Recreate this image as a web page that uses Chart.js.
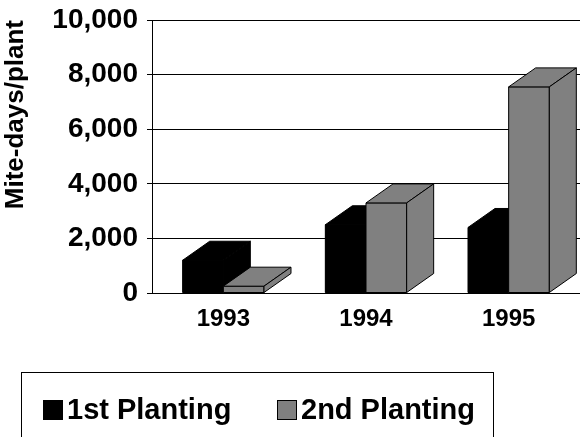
<!DOCTYPE html>
<html lang="en">
<head>
<meta charset="utf-8">
<title>Mite-days per plant</title>
<script src="https://cdn.jsdelivr.net/npm/chart.js@4.4.0/dist/chart.umd.min.js"></script>
<style>
  html, body { margin: 0; padding: 0; background: #fff; }
  #wrap { position: relative; width: 580px; height: 437px; overflow: hidden; }
  #legend {
    position: absolute; left: 21px; top: 372px; width: 473px; height: 90px;
    border: 1px solid #000; box-sizing: border-box;
    font: bold 29px "Liberation Sans", Arial, sans-serif; color: #000;
  }
  .item { position: absolute; top: 20px; white-space: nowrap; }
  .sw { display: inline-block; width: 20px; height: 20px; box-sizing: border-box; vertical-align: -1px; margin-right: 4px; }
</style>
</head>
<body>
<div id="wrap">
  <canvas id="myChart" width="580" height="437"></canvas>
  <div id="legend">
    <span class="item" style="left:21px"><span class="sw" style="background:#000"></span>1st Planting</span>
    <span class="item" style="left:255px"><span class="sw" style="background:#808080;border:1px solid #000"></span>2nd Planting</span>
  </div>
</div>
<script>
  const years = ["1993", "1994", "1995"];
  const firstPlanting = [1200, 2500, 2400];
  const secondPlanting = [250, 3300, 7550];
  const yTicks = [0, 2000, 4000, 6000, 8000, 10000];

  const depthX = 27, depthY = 19; // fake 3d offset

  // draw the bars again with top and side faces, dataset 0 first so 2nd planting sits in front
  const bars3d = {
    id: "bars3d",
    afterDatasetsDraw(chart) {
      const ctx = chart.ctx;
      ctx.save();
      chart.data.datasets.forEach(function (ds, di) {
        const meta = chart.getDatasetMeta(di);
        meta.data.forEach(function (bar) {
          const l = bar.x - bar.width / 2, r = bar.x + bar.width / 2;
          const t = bar.y, b = bar.base;
          ctx.fillStyle = ds.backgroundColor;
          ctx.strokeStyle = "#000";
          ctx.lineWidth = 1;
          ctx.lineJoin = "miter";
          // front
          ctx.beginPath();
          ctx.rect(l, t, r - l, b - t);
          ctx.fill(); ctx.stroke();
          // top
          ctx.beginPath();
          ctx.moveTo(l, t);
          ctx.lineTo(l + depthX, t - depthY);
          ctx.lineTo(r + depthX, t - depthY);
          ctx.lineTo(r, t);
          ctx.closePath();
          ctx.fill(); ctx.stroke();
          // side
          ctx.beginPath();
          ctx.moveTo(r, t);
          ctx.lineTo(r + depthX, t - depthY);
          ctx.lineTo(r + depthX, b - depthY);
          ctx.lineTo(r, b);
          ctx.closePath();
          ctx.fill(); ctx.stroke();
        });
      });
      ctx.restore();
    }
  };

  const ctx = document.getElementById("myChart").getContext("2d");
  const chart = new Chart(ctx, {
    type: "bar",
    data: {
      labels: years,
      datasets: [
        { label: "1st Planting", data: firstPlanting, backgroundColor: "#000000", borderWidth: 0 },
        { label: "2nd Planting", data: secondPlanting, backgroundColor: "#808080", borderColor: "#000", borderWidth: 1 },
      ],
    },
    options: {
      responsive: false,
      animation: false,
      layout: { padding: { top: 20, right: 0, bottom: 104, left: 0 } },
      datasets: { bar: { categoryPercentage: 0.57, barPercentage: 1.0 } },
      plugins: { legend: { display: false }, tooltip: { enabled: false } },
      scales: {
        x: {
          grid: { display: false, drawTicks: false },
          border: { display: true, color: "#000", width: 1 },
          ticks: {
            color: "#000", padding: 12,
            font: { family: "'Liberation Sans', Arial, sans-serif", size: 24, weight: "bold" },
          },
          afterFit(scale) { scale.height = 40; },
        },
        y: {
          min: 0, max: 10000,
          afterBuildTicks(scale) { scale.ticks = yTicks.map(function (v) { return { value: v }; }); },
          grid: { color: "#000", lineWidth: 1, tickLength: 5 },
          border: { display: true, color: "#000", width: 1 },
          ticks: {
            color: "#000", padding: 9,
            font: { family: "'Liberation Sans', Arial, sans-serif", size: 28, weight: "bold" },
            callback: function (v) { return v.toLocaleString("en-US"); },
          },
          title: {
            display: true, text: "Mite-days/plant", align: "end", color: "#000", padding: 0,
            font: { family: "'Liberation Sans', Arial, sans-serif", size: 26, weight: "bold" },
          },
          afterFit(scale) {
            scale.width = 152;
            scale.paddingTop = 0;
            scale.paddingBottom = 0;
          },
        },
      },
    },
    plugins: [bars3d],
  });
</script>
</body>
</html>
